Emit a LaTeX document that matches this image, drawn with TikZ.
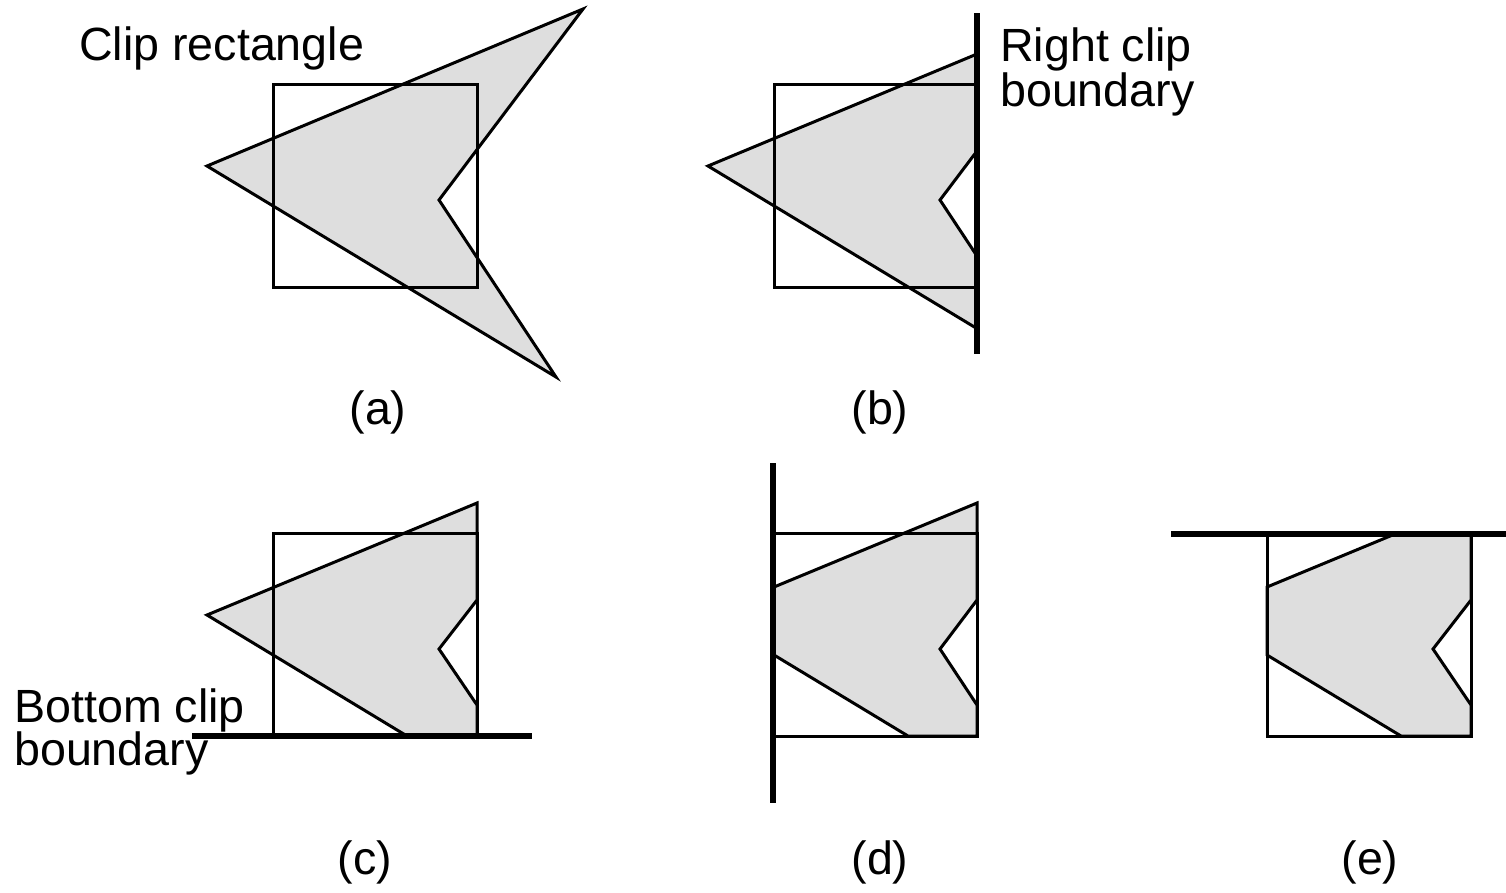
\documentclass[tikz,border=0pt]{standalone}
\usepackage{fontspec}
\setmainfont{Liberation Sans}
\begin{document}
\begin{tikzpicture}[x=1pt,y=-1pt,
  poly/.style={fill=black!13,draw=black,line width=3pt,miter limit=10},
  cliprect/.style={draw=black,line width=3pt},
  boundary/.style={draw=black,line width=5.5pt},
  lbl/.style={font=\fontsize{46.6}{46}\selectfont,inner sep=0pt}]
\useasboundingbox (0,0) rectangle (1506,892);
% (a)
\filldraw[poly] (207,166) -- (583,9) -- (439,200) -- (556,377) -- cycle;
\draw[cliprect] (273,84) rectangle (477,287);
\node[lbl,anchor=base west] (cliplbl) at (79,60) {Clip rectangle};
\node[lbl] (la) at (378,412) {(a)};
% (b)
\filldraw[poly] (708,166) -- (977,54) -- (977,151) -- (940,200) -- (977,256) -- (977,328.6) -- cycle;
\draw[cliprect] (774,84) rectangle (977,287);
\coordinate (rbtop) at (977,13);
\coordinate (rbbot) at (977,354);
\draw[boundary] (rbtop) -- (rbbot);
\node[lbl,anchor=base west] (rightlbl1) at (1000,61) {Right clip};
\node[lbl,anchor=base west] (rightlbl2) at (1000,106) {boundary};
\node[lbl] (lb) at (880,412) {(b)};
% (c)
\filldraw[poly] (207,615) -- (477,503) -- (477,600) -- (439,649) -- (477,705) -- (477,736) -- (407,736) -- cycle;
\draw[cliprect] (273,533) rectangle (477,736);
\coordinate (bbl) at (192,736);
\coordinate (bbr) at (532,736);
\draw[boundary] (bbl) -- (bbr);
\node[lbl,anchor=base west] (bottomlbl1) at (14,722) {Bottom clip};
\node[lbl,anchor=base west] (bottomlbl2) at (14,765) {boundary};
\node[lbl] (lc) at (365,862) {(c)};
% (d)
\filldraw[poly] (774,587) -- (977,503) -- (977,600) -- (940,649) -- (977,705) -- (977,736) -- (908,736) -- (774,655) -- cycle;
\draw[cliprect] (774,533) rectangle (977,736);
\coordinate (lbtop) at (773,463);
\coordinate (lbbot) at (773,803);
\draw[boundary] (lbtop) -- (lbbot);
\node[lbl] (ld) at (880,862) {(d)};
% (e)
\filldraw[poly] (1267,587) -- (1395,534) -- (1471,534) -- (1471,600) -- (1433,649) -- (1471,705) -- (1471,736) -- (1401,736) -- (1267,655) -- cycle;
\draw[cliprect] (1267,534) rectangle (1471,736);
\coordinate (tbl) at (1171,534);
\coordinate (tbr) at (1506,534);
\draw[boundary] (tbl) -- (tbr);
\node[lbl] (le) at (1370,862) {(e)};
\end{tikzpicture}
\end{document}
